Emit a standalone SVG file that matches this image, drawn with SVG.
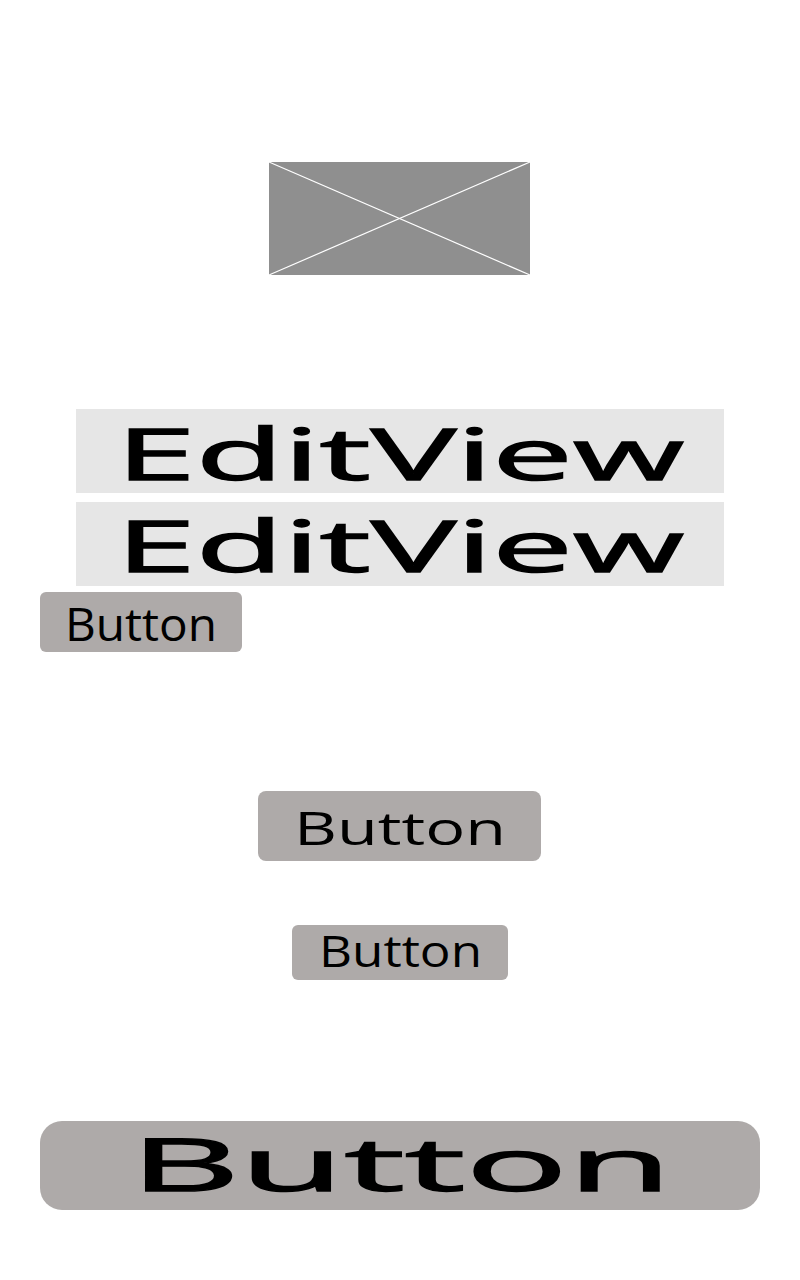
<svg xmlns="http://www.w3.org/2000/svg" width="800" height="1280" viewBox="0 0 800 1280">
<style>
.edit{fill:#e6e6e6}
.btn{fill:#aeaaa9}
.t{font-family:"Open Sans","Noto Sans","DejaVu Sans",sans-serif;fill:#000}
.heavy{stroke:#000;stroke-width:1.4}
</style>
<rect width="800" height="1280" fill="#ffffff"/>
<g id="image">
<rect x="269" y="162" width="261" height="113" fill="#8f8f8f"/>
<line x1="269" y1="162" x2="530" y2="275" stroke="#ffffff" stroke-width="1.2"/>
<line x1="530" y1="162" x2="269" y2="275" stroke="#ffffff" stroke-width="1.2"/>
</g>
<g id="edit1">
<rect class="edit" x="76" y="409" width="648" height="84"/>
<text class="t heavy" x="116" y="480" font-size="71" textLength="568" lengthAdjust="spacingAndGlyphs">EditView</text>
</g>
<g id="edit2">
<rect class="edit" x="76" y="502" width="648" height="84"/>
<text class="t heavy" x="116" y="572" font-size="71" textLength="568" lengthAdjust="spacingAndGlyphs">EditView</text>
</g>
<g id="button1">
<rect class="btn" x="40" y="592" width="202" height="60" rx="6"/>
<text class="t" x="65" y="641" font-size="46" textLength="152" lengthAdjust="spacingAndGlyphs">Button</text>
</g>
<g id="button2">
<rect class="btn" x="258" y="791" width="283" height="70" rx="8"/>
<text class="t" x="294" y="845" font-size="46" textLength="212" lengthAdjust="spacingAndGlyphs">Button</text>
</g>
<g id="button3">
<rect class="btn" x="292" y="925" width="216" height="55" rx="6"/>
<text class="t" x="319" y="967" font-size="43" textLength="163" lengthAdjust="spacingAndGlyphs">Button</text>
</g>
<g id="button4">
<rect class="btn" x="40" y="1121" width="720" height="89" rx="22"/>
<text class="t heavy" x="130" y="1191" font-size="74" textLength="542" lengthAdjust="spacingAndGlyphs">Button</text>
</g>
</svg>
